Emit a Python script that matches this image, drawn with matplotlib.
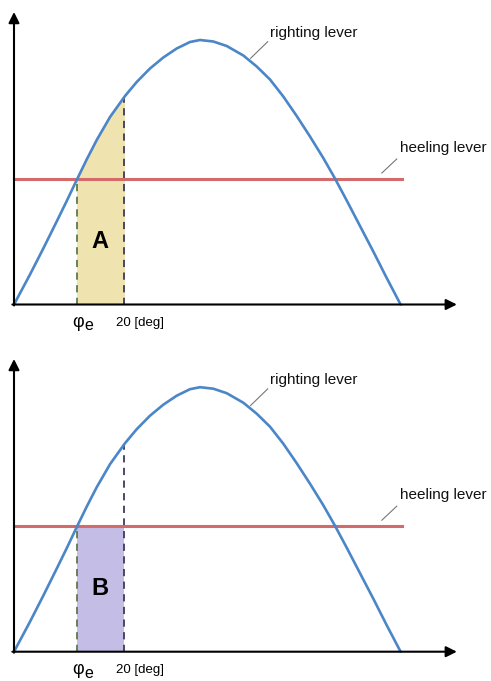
import numpy as np
import matplotlib
matplotlib.use("Agg")
import matplotlib.pyplot as plt
from matplotlib.patches import Rectangle

plt.rcParams['font.family'] = ['Liberation Sans', 'DejaVu Sans']

# righting lever curve (heel angle in deg, lever in arbitrary units)
heel_deg = [0, 2.90, 5.31, 7.74, 9.56, 11.37, 13.18, 15.0, 17.41, 20.13, 22.25,
            24.66, 27.07, 29.5, 31.91, 33.73, 36.14, 38.57, 41.58, 44.01, 46.42,
            48.83, 51.26, 53.67, 56.08, 58.2, 60.33, 62.74, 65.15, 67.58, 70.1]
righting = [0, 0.30, 0.56, 0.83, 1.035, 1.245, 1.45, 1.645, 1.875, 2.085, 2.225,
            2.36, 2.47, 2.56, 2.625, 2.645, 2.63, 2.585, 2.49, 2.38, 2.25,
            2.08, 1.885, 1.68, 1.465, 1.26, 1.04, 0.785, 0.53, 0.265, 0]
heeling = 1.255
heel_end = 70.4
phi_e = 11.4
phi_20 = 20.0
righting_at_20 = 2.075
panel_labels = ["A", "B"]

blue = "#4a86c8"
red = "#d46a6a"
fills = ["#efe3b0", "#c4bde6"]

W, H = 491, 681
px_per_deg = 5.515
px_per_unit = 100.0
x0_px = 14


def draw_panel(ax, row_top, row_bot, base_row, kind):
    ax.set_xlim(-x0_px / px_per_deg, (W - x0_px) / px_per_deg)
    ax.set_ylim((base_row - row_bot) / px_per_unit, (base_row - row_top) / px_per_unit)
    ax.axis("off")

    # shaded area
    if kind == 0:
        f = ax.fill_between(heel_deg, 0, righting, color=fills[0], lw=0, zorder=1)
        f.set_clip_path(Rectangle((phi_e, 0), phi_20 - phi_e, 3, transform=ax.transData))
    else:
        ax.fill_between([phi_e, phi_20], 0, heeling, color=fills[1], lw=0, zorder=1)

    ax.plot([phi_e, phi_e], [0, heeling], ls=(0, (4, 3)), color="#5e7a4a", lw=1.3, zorder=2)
    ax.plot([phi_20, phi_20], [0, righting_at_20], ls=(0, (4, 3)), color="#3d3a5c", lw=1.3, zorder=2)

    ax.plot([0, heel_end], [heeling, heeling], color=red, lw=2.2, zorder=3)
    ax.plot(heel_deg, righting, color=blue, lw=1.9, zorder=4,
            solid_joinstyle="round", solid_capstyle="round")

    # axes with arrows
    top_y = (base_row - (row_top + 12)) / px_per_unit
    ax.annotate("", xy=(0, top_y), xytext=(0, -0.01),
                arrowprops=dict(arrowstyle="-|>", color="black", lw=1.5,
                                mutation_scale=16, shrinkA=0, shrinkB=0), zorder=5)
    ax.annotate("", xy=(80.3, 0), xytext=(-0.3, 0),
                arrowprops=dict(arrowstyle="-|>", color="black", lw=1.5,
                                mutation_scale=16, shrinkA=0, shrinkB=0), zorder=5)

    ax.text(46.4, 2.715, "righting lever", fontsize=11, va="center", ha="left", color="#111111")
    ax.plot([42.9, 46.0], [2.462, 2.628], color="#777777", lw=0.8)
    ax.text(70.0, 1.565, "heeling lever", fontsize=11, va="center", ha="left", color="#111111")
    ax.plot([66.7, 69.4], [1.315, 1.455], color="#777777", lw=0.8)

    ax.text(15.6, 0.63, panel_labels[kind], fontsize=17, fontweight="bold",
            ha="center", va="center", zorder=6)
    ax.text(11.7, -0.18, "φ", fontsize=13, ha="center", va="center")
    ax.text(13.5, -0.215, "e", fontsize=11.5, ha="center", va="center")
    ax.text(18.5, -0.185, "20 [deg]", fontsize=9.5, ha="left", va="center")


fig = plt.figure(figsize=(W / 100, H / 100), dpi=100)
ax1 = fig.add_axes([0, (H - 340) / H, 1, 340 / H])
draw_panel(ax1, 0, 340, 304.5, 0)
ax2 = fig.add_axes([0, 0, 1, 334 / H])
draw_panel(ax2, 347, 681, 651.7, 1)

fig.savefig("out.png", dpi=100)
